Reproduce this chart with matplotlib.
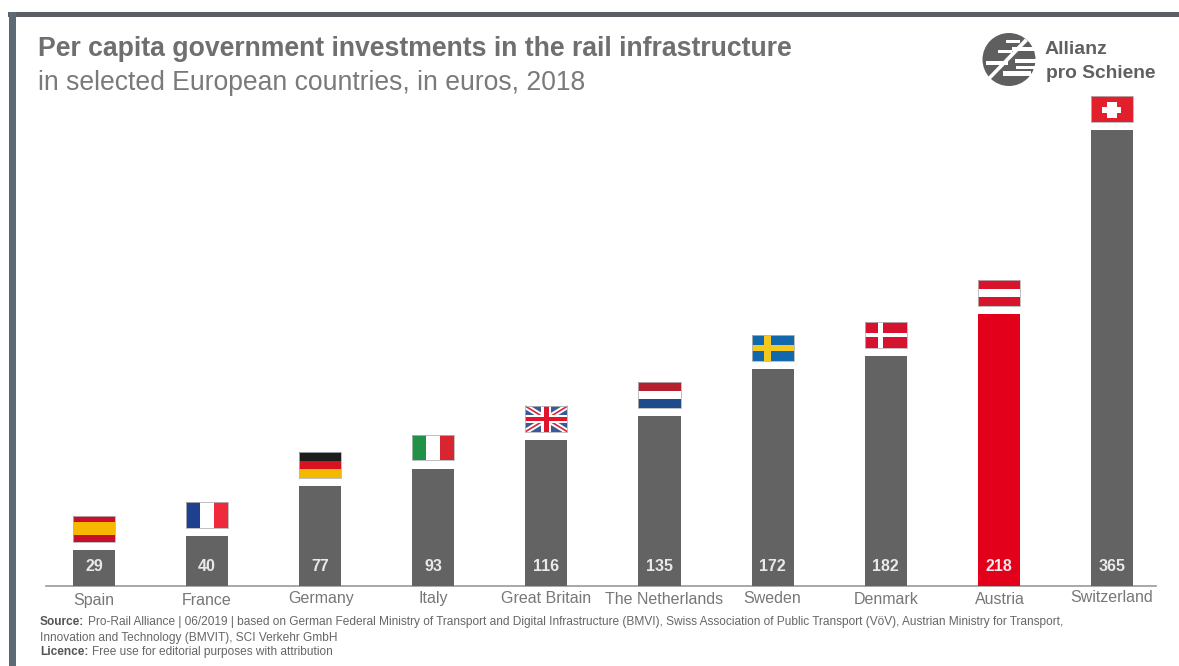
import matplotlib
matplotlib.use('Agg')
import matplotlib.pyplot as plt
from matplotlib.patches import Rectangle, Circle, Polygon

countries = ['Spain', 'France', 'Germany', 'Italy', 'Great Britain', 'The Netherlands',
             'Sweden', 'Denmark', 'Austria', 'Switzerland']
invest = [29, 40, 77, 93, 116, 135, 172, 182, 218, 365]
# drawn bar heights as measured, the source chart is not quite to scale
bar_heights = [29, 40, 80, 94, 117, 136, 174, 184, 218, 365]
flag_kinds = ['es', 'fr', 'de', 'it', 'gb', 'nl', 'se', 'dk', 'at', 'ch']
label_dy = [3, 3, 1, 1, 1, 2, 1, 2, 2, 0]
label_dx = [0, 0, 1, 0, 0, 5, 0, 0, 1, 0]

GREY = '#636363'
RED = '#e2001a'
TXT = '#6f6f6f'
EDGE = '#b5b5b5'
plt.rcParams['font.family'] = ['Liberation Sans', 'DejaVu Sans']

W, H = 1179, 666
fig = plt.figure(figsize=(W / 100, H / 100), dpi=100, facecolor='white')

# page layer in pixels, for the frame, titles and logo
bg = fig.add_axes([0, 0, 1, 1], zorder=0)
bg.set_xlim(0, W)
bg.set_ylim(H, 0)
bg.axis('off')

# chart layer, baseline at y=586, 1.249 px per euro, 113.1 px per bar
x0, x1 = 46, 1156
ytop = 60
ax = fig.add_axes([x0 / W, (H - 586) / H, (x1 - x0) / W, (586 - ytop) / H], zorder=1)
ax.patch.set_alpha(0)
ax.set_xlim((x0 - 94) / 113.1, (x1 - 94) / 113.1)
ax.set_ylim(0, (586 - ytop) / 1.249)
for s in ['top', 'left', 'right']:
    ax.spines[s].set_visible(False)
ax.spines['bottom'].set_color('#9a9a9a')
ax.spines['bottom'].set_linewidth(1.2)
ax.set_yticks([])
ax.set_xticks([])

FW = 0.186   # flag half-width in x units
FH = 20.5    # flag height in euros
GAP = 6.5


def rect(i, b, u0, v0, u1, v1, c, z=4):
    # u,v are 0..1 inside the flag, v measured from the top
    ax.add_patch(Rectangle((i - FW + u0 * 2 * FW, b + FH * (1 - v1)), (u1 - u0) * 2 * FW,
                           (v1 - v0) * FH, fc=c, ec='none', zorder=z, clip_on=False))


def bars3(i, b, cols, horiz=True, sizes=None):
    sizes = sizes or [1 / 3.] * 3
    p = 0
    for c, s in zip(cols, sizes):
        if horiz:
            rect(i, b, 0, p, 1, p + s, c)
        else:
            rect(i, b, p, 0, p + s, 1, c)
        p += s


def cross(i, b, back, fore, cx=0.36, w=0.13, hh=0.2):
    rect(i, b, 0, 0, 1, 1, back)
    rect(i, b, cx - w / 2, 0, cx + w / 2, 1, fore)
    rect(i, b, 0, 0.5 - hh / 2, 1, 0.5 + hh / 2, fore)


def union_jack(i, b):
    rect(i, b, 0, 0, 1, 1, '#3a5a94')
    l, r = i - FW, i + FW
    t, d = b + FH, b
    for pts in ([(l, t), (r, d)], [(l, d), (r, t)]):
        ax.plot(*zip(*pts), color='white', lw=4, zorder=5, solid_capstyle='butt')
        ax.plot(*zip(*pts), color='#d8263a', lw=1.2, zorder=6, solid_capstyle='butt')
    rect(i, b, 0.38, 0, 0.62, 1, 'white', 7)
    rect(i, b, 0, 0.33, 1, 0.67, 'white', 7)
    rect(i, b, 0.44, 0, 0.56, 1, '#e2142d', 8)
    rect(i, b, 0, 0.41, 1, 0.59, '#e2142d', 8)


def draw_flag(i, top, kind):
    b = top + GAP
    if kind == 'es':
        bars3(i, b, ['#c8102e', '#f7b900', '#c8102e'], sizes=[.25, .5, .25])
    elif kind == 'fr':
        bars3(i, b, ['#1f3f8f', 'white', '#ee2a3c'], horiz=False)
    elif kind == 'de':
        bars3(i, b, ['#1c1c1c', '#d8121f', '#f5b800'])
    elif kind == 'it':
        bars3(i, b, ['#1f9248', 'white', '#d9252f'], horiz=False)
    elif kind == 'gb':
        union_jack(i, b)
    elif kind == 'nl':
        bars3(i, b, ['#b5202e', 'white', '#1f4a8c'])
    elif kind == 'se':
        cross(i, b, '#1268ac', '#f6c81e', cx=0.38, w=0.16, hh=0.24)
    elif kind == 'dk':
        cross(i, b, '#d5122f', 'white', cx=0.37, w=0.11, hh=0.17)
    elif kind == 'at':
        bars3(i, b, ['#d8142c', 'white', '#d8142c'])
    elif kind == 'ch':
        rect(i, b, 0, 0, 1, 1, '#e2202c')
        rect(i, b, 0.39, 0.2, 0.61, 0.85, 'white')
        rect(i, b, 0.27, 0.4, 0.71, 0.65, 'white')
    # thin grey outline, so white stripes read against the page
    ax.add_patch(Rectangle((i - FW, b), 2 * FW, FH, fc='none', ec=EDGE, lw=0.6, zorder=9, clip_on=False))


pos = list(range(len(invest)))
colors = [RED if c == 'Austria' else GREY for c in countries]
ax.bar(pos, bar_heights, width=0.372, color=colors, zorder=3)
for i, v in enumerate(invest):
    ax.text(i, 15.5, str(v), color='#e9e9e9', fontsize=11.5, fontweight='bold', ha='center',
            va='center', zorder=5)
    draw_flag(i, bar_heights[i], flag_kinds[i])
    ax.annotate(countries[i], (i, 0), xytext=(label_dx[i] * 0.72, -label_dy[i] * 0.72 - 3), textcoords='offset points',
                ha='center', va='top', fontsize=11.5, color='#777777')

# frame
bg.add_patch(Rectangle((8, 12), W - 8, 5, fc='#5b5f63', ec='none'))
bg.add_patch(Rectangle((9, 12), 7, H - 12, fc='#5d6a74', ec='none'))

bg.text(38, 49, 'Per capita government investments in the rail infrastructure', fontsize=19.2,
        fontweight='bold', color=TXT, va='center')
bg.text(38, 83, 'in selected European countries, in euros, 2018', fontsize=19.1, color='#7a7a7a', va='center')

# logo
bg.add_patch(Circle((1009, 59.5), 26.5, fc='#5f5f5f', ec='none'))
for x, y, w, h in [(1006, 40, 14, 3), (998, 50, 14, 3), (1012, 47, 24, 4), (986, 61, 22, 4),
                   (1015, 59, 22, 4), (1003, 71, 28, 5), (1016, 66, 19, 3)]:
    bg.add_patch(Rectangle((x, y), w, h, fc='white', ec='none'))
bg.add_patch(Polygon([(988, 77), (990.5, 79.5), (1028, 41), (1025, 38.5)], fc='white', ec='none'))
bg.text(1045, 49, 'Allianz', fontsize=14, fontweight='bold', color='#606060', va='center')
bg.text(1046, 73, 'pro Schiene', fontsize=13.8, fontweight='bold', color='#606060', va='center')

# source notes
fs = 8.6
bg.text(40, 622, 'Source:', fontsize=fs, fontweight='bold', color='#555555', va='center')
bg.text(88, 622, 'Pro-Rail Alliance | 06/2019 | based on German Federal Ministry of Transport and Digital '
        'Infrastructure (BMVI), Swiss Association of Public Transport (VöV), Austrian Ministry for Transport,',
        fontsize=fs, color='#666666', va='center')
bg.text(40, 638, 'Innovation and Technology (BMVIT), SCI Verkehr GmbH', fontsize=fs, color='#666666', va='center')
bg.text(40, 652, 'Licence:', fontsize=fs, fontweight='bold', color='#555555', va='center')
bg.text(92, 652, 'Free use for editorial purposes with attribution', fontsize=fs, color='#666666', va='center')

fig.savefig('out.png', dpi=100)
